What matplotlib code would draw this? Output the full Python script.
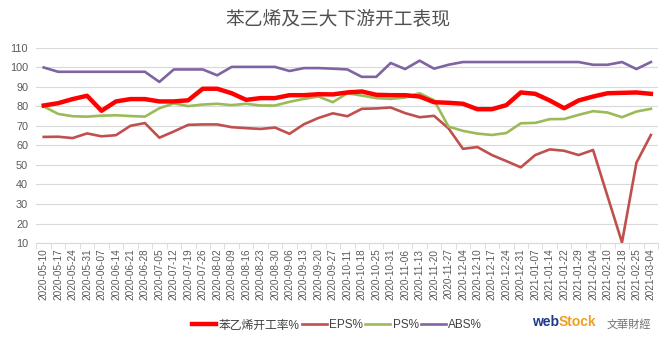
import matplotlib.pyplot as plt
import numpy as np

plt.rcParams['font.family'] = ['Liberation Sans', 'Noto Sans CJK SC', 'DejaVu Sans']

# weekly dates on the x axis
dates = ['2020-05-10', '2020-05-17', '2020-05-24', '2020-05-31', '2020-06-07', '2020-06-14',
         '2020-06-21', '2020-06-28', '2020-07-05', '2020-07-12', '2020-07-19', '2020-07-26',
         '2020-08-02', '2020-08-09', '2020-08-16', '2020-08-23', '2020-08-30', '2020-09-06',
         '2020-09-13', '2020-09-20', '2020-09-27', '2020-10-11', '2020-10-18', '2020-10-25',
         '2020-10-31', '2020-11-06', '2020-11-13', '2020-11-20', '2020-11-27', '2020-12-04',
         '2020-12-10', '2020-12-17', '2020-12-24', '2020-12-31', '2021-01-07', '2021-01-14',
         '2021-01-22', '2021-01-29', '2021-02-04', '2021-02-10', '2021-02-18', '2021-02-25',
         '2021-03-04']

# styrene operating rate
styrene = [80.5, 81.7, 83.8, 85.5, 77.8, 82.6, 83.8, 83.8, 82.6, 82.6, 83.2, 89.1, 89.1, 86.8,
           83.4, 84.3, 84.3, 85.8, 85.8, 86.3, 86.2, 87.2, 87.7, 86.0, 85.8, 85.8, 85.1, 82.2,
           81.9, 81.4, 78.6, 78.6, 80.7, 87.2, 86.5, 83.1, 79.1, 83.1, 85.1, 86.8, 87.0, 87.2,
           86.5]
eps = [64.4, 64.5, 63.8, 66.2, 64.7, 65.3, 70.1, 71.5, 64.0, 67.2, 70.6, 70.8, 70.8, 69.4,
       68.9, 68.5, 69.2, 66.0, 70.9, 74.1, 76.5, 75.0, 78.8, 79.0, 79.5, 76.6, 74.5, 75.2,
       68.8, 58.3, 59.2, 55.1, 52.0, 48.8, 55.1, 58.0, 57.3, 55.1, 57.7, 34.0, 10.3, 51.2,
       65.4]
ps = [80.0, 76.2, 75.0, 74.8, 75.3, 75.5, 75.1, 74.8, 79.1, 81.6, 80.2, 81.0, 81.4, 80.7,
      81.4, 80.5, 80.5, 82.4, 83.9, 85.1, 82.2, 86.8, 85.6, 84.3, 83.9, 84.6, 86.8, 83.2,
      69.7, 67.5, 66.1, 65.4, 66.4, 71.4, 71.6, 73.5, 73.6, 75.7, 77.6, 76.9, 74.5, 77.4,
      78.8]
abs_rate = [100.0, 97.8, 97.8, 97.8, 97.8, 97.8, 97.8, 97.8, 92.6, 99.0, 99.0, 99.0, 96.0,
            100.3, 100.3, 100.3, 100.3, 98.2, 99.7, 99.7, 99.4, 99.0, 95.2, 95.2, 102.3, 99.2,
            103.5, 99.4, 101.4, 102.8, 102.8, 102.8, 102.8, 102.8, 102.8, 102.8, 102.8, 102.8,
            101.4, 101.4, 102.8, 99.2, 102.8]

series_names = ['苯乙烯开工率%', 'EPS%', 'PS%', 'ABS%']
colors = ['#FF0000', '#C0504D', '#9BBB59', '#8064A2']

fig = plt.figure(figsize=(6.67, 3.47), dpi=100)
ax = fig.add_axes([0.0547, 0.2997, 0.932, 0.562])

x = np.arange(len(dates))
ax.plot(x, styrene, color=colors[0], lw=3.2, label=series_names[0], zorder=5)
ax.plot(x, eps, color=colors[1], lw=1.9, label=series_names[1], zorder=3)
ax.plot(x, ps, color=colors[2], lw=1.9, label=series_names[2], zorder=4)
ax.plot(x, abs_rate, color=colors[3], lw=1.9, label=series_names[3], zorder=3)

ax.set_xlim(-0.5, len(dates) - 0.5)
ax.set_ylim(10, 110)
ax.set_yticks(range(10, 111, 10))
ax.yaxis.grid(True, color='#D9D9D9', lw=0.8)
ax.set_axisbelow(True)

ax.set_xticks(x)
ax.set_xticklabels(dates, rotation=90, fontsize=7.2, color='#595959')
ax.set_xticks(np.arange(-0.5, len(dates), 1), minor=True)
ax.tick_params(axis='x', which='major', length=0, pad=4)
ax.tick_params(axis='x', which='minor', length=4, color='#D9D9D9')
ax.tick_params(axis='y', length=0, labelsize=7.8, labelcolor='#595959', pad=6)

for s in ['top', 'right', 'left']:
    ax.spines[s].set_visible(False)
ax.spines['bottom'].set_color('#D9D9D9')

fig.text(0.506, 0.945, '苯乙烯及三大下游开工表现', ha='center', va='center',
         fontsize=13.5, color='#505050', family=['Noto Sans CJK SC'])

leg = fig.legend(loc='center', bbox_to_anchor=(0.505, 0.062), ncol=4, frameon=False,
                 fontsize=8.5, handlelength=2.1, handletextpad=0.2, columnspacing=0.2)
for t in leg.get_texts():
    t.set_color('#404040')

# logo text
fig.text(0.838, 0.072, 'web', ha='right', va='center', fontsize=10, weight='bold', color='#1F3A8A')
fig.text(0.838, 0.072, 'Stock', ha='left', va='center', fontsize=10, weight='bold', color='#F0A020')
fig.text(0.943, 0.066, '文華財經', ha='center', va='center', fontsize=8, color='#707070',
         family=['Noto Sans CJK TC'])

fig.savefig('out.png', dpi=100)
